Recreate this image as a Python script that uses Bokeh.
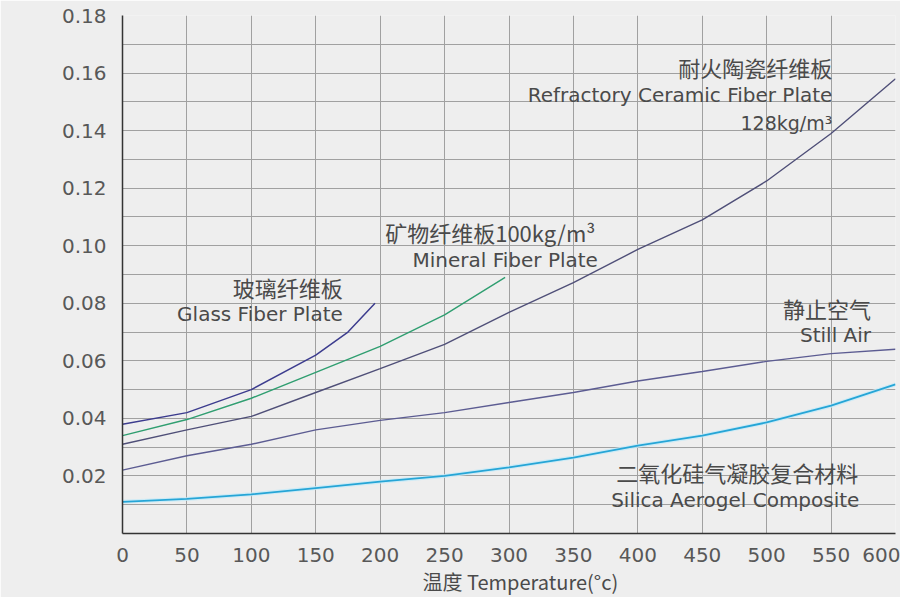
import numpy as np
from bokeh.plotting import figure
from bokeh.models import FixedTicker, Label, PrintfTickFormatter, Title
from bokeh.embed import file_html
from bokeh.resources import INLINE

# ---- data ----
t_glass = [0, 50, 100, 150, 175, 196]
k_glass = [0.038, 0.042, 0.050, 0.062, 0.070, 0.080]

t_mineral = [0, 50, 100, 150, 200, 250, 297]
k_mineral = [0.034, 0.0396, 0.047, 0.056, 0.065, 0.076, 0.089]

t_full = [0, 50, 100, 150, 200, 250, 300, 350, 400, 450, 500, 550, 600]
k_ceramic = [0.031, 0.036, 0.0407, 0.049, 0.0573, 0.0657, 0.0768, 0.0872, 0.0987, 0.109, 0.1225, 0.139, 0.158]
k_air = [0.022, 0.027, 0.031, 0.036, 0.0393, 0.042, 0.0455, 0.049, 0.053, 0.0563, 0.0598, 0.0625, 0.064]
k_silica = [0.011, 0.012, 0.0136, 0.0158, 0.0180, 0.020, 0.023, 0.0264, 0.0305, 0.034, 0.0386, 0.0444, 0.0518]

x_ticks = [0, 50, 100, 150, 200, 250, 300, 350, 400, 450, 500, 550, 600]
y_ticks = [0.02, 0.04, 0.06, 0.08, 0.10, 0.12, 0.14, 0.16, 0.18]
y_minor = [0.01, 0.03, 0.05, 0.07, 0.09, 0.11, 0.13, 0.15, 0.17]

BG = "#eeeeee"
TXT = "#4a4a4a"
EN_FONT = "DejaVu Sans"
CJK_FONT = "Noto Sans CJK SC"

p = figure(width=900, height=597, x_range=(0, 600), y_range=(0, 0.18),
           output_backend="svg", toolbar_location=None,
           min_border_left=122, min_border_right=5, min_border_top=15, min_border_bottom=64)
p.background_fill_color = BG
p.border_fill_color = BG
p.outline_line_color = None

# grid
p.xaxis.ticker = FixedTicker(ticks=x_ticks)
p.yaxis.ticker = FixedTicker(ticks=y_ticks, minor_ticks=y_minor)
p.xgrid.ticker = FixedTicker(ticks=x_ticks)
p.ygrid.ticker = FixedTicker(ticks=y_ticks, minor_ticks=y_minor)
for g in (p.xgrid, p.ygrid):
    g.grid_line_color = "#a0a0a0"
    g.grid_line_width = 1
p.ygrid.minor_grid_line_color = "#a0a0a0"
p.ygrid.minor_grid_line_width = 1

for ax in (p.xaxis, p.yaxis):
    ax.axis_line_color = "#333333"
    ax.axis_line_width = 1.5
    ax.major_tick_line_color = None
    ax.minor_tick_line_color = None
    ax.major_label_text_font = EN_FONT
    ax.major_label_text_font_size = "20px"
    ax.major_label_text_color = "#585858"
p.yaxis.major_label_standoff = 10
p.xaxis.major_label_standoff = 8
p.yaxis.formatter = PrintfTickFormatter(format="%.2f")

# x-axis title
p.add_layout(Title(text="温度 Temperature(°c)", align="left", offset=300,
                   text_font=CJK_FONT, text_font_size="20px", text_font_style="normal",
                   text_color=TXT, standoff=0), "below")

# curves
p.line(t_full, k_silica, line_color="#c4eaf7", line_width=4, line_alpha=0.8)
p.line(t_full, k_silica, line_color="#26a5d6", line_width=1.8)
p.line(t_full, k_air, line_color="#5c5c92", line_width=1.4)
p.line(t_full, k_ceramic, line_color="#4f4f78", line_width=1.4)
p.line(t_mineral, k_mineral, line_color="#2f9e70", line_width=1.4)
p.line(t_glass, k_glass, line_color="#3c3c8e", line_width=1.5)

# curve labels
labels = [
    ("耐火陶瓷纤维板", 551, 0.162, CJK_FONT, "22px"),
    ("Refractory Ceramic Fiber Plate", 551, 0.1525, EN_FONT, "20px"),
    ("128kg/m³", 551, 0.1428, EN_FONT, "19px"),
    ("矿物纤维板100kg/m³", 367, 0.1046, CJK_FONT, "22px"),
    ("Mineral Fiber Plate", 369, 0.0949, EN_FONT, "20px"),
    ("玻璃纤维板", 171, 0.0855, CJK_FONT, "22px"),
    ("Glass Fiber Plate", 171, 0.0764, EN_FONT, "20px"),
    ("静止空气", 581, 0.0785, CJK_FONT, "22px"),
    ("Still Air", 581, 0.069, EN_FONT, "20px"),
    ("二氧化硅气凝胶复合材料", 571, 0.0212, CJK_FONT, "22px"),
    ("Silica Aerogel Composite", 572, 0.0116, EN_FONT, "20px"),
]
for txt, x, y, font, size in labels:
    p.add_layout(Label(x=x, y=y, text=txt, text_align="right", text_baseline="middle",
                       text_font=font, text_font_size=size, text_color=TXT))

# y-axis title (two rotated lines)
p.add_layout(Label(x=61 - 130, y=541 - 478, x_units="screen", y_units="screen",
                   text="Thermal Conductivity", angle=np.pi / 2, text_align="left",
                   text_baseline="middle", text_font=EN_FONT, text_font_size="19px",
                   text_color=TXT))
p.add_layout(Label(x=28 - 130, y=541 - 480, x_units="screen", y_units="screen",
                   text="导热系数", angle=np.pi / 2, text_align="left",
                   text_baseline="middle", text_font=CJK_FONT, text_font_size="19px",
                   text_color=TXT))

open("out.html", "w").write(file_html(p, INLINE))
